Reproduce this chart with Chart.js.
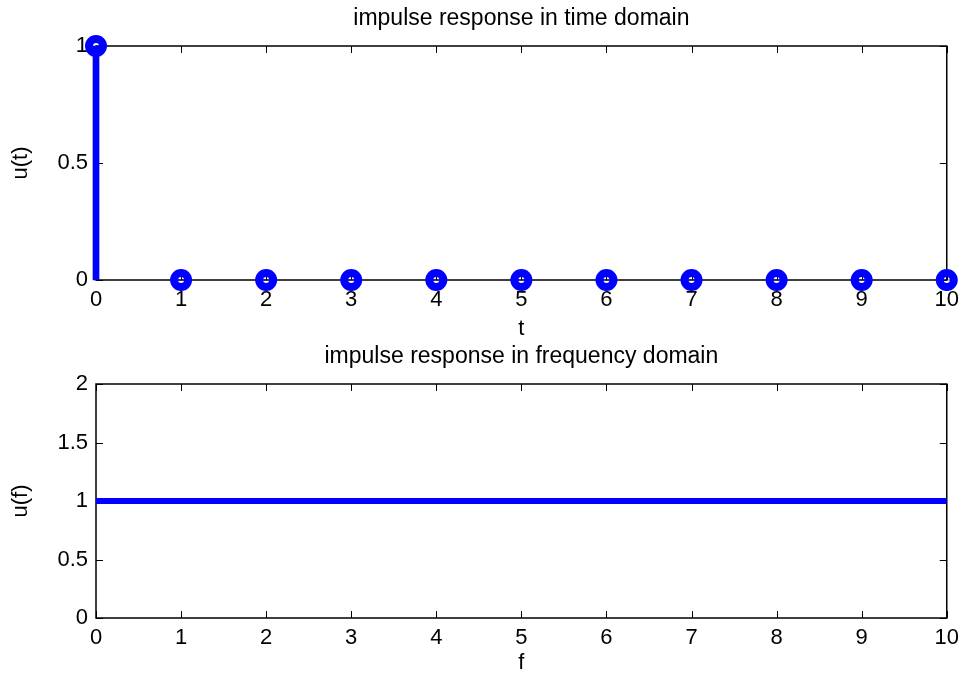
<!DOCTYPE html>
<html>
<head>
<meta charset="utf-8">
<title>impulse response</title>
<script src="https://cdn.jsdelivr.net/npm/chart.js@4"></script>
<style>
  html, body { margin: 0; padding: 0; background: #fff; overflow: hidden; }
  #wrap { position: relative; width: 966px; height: 673px; overflow: hidden; }
  canvas { position: absolute; left: 0; }
  #timeChart { top: 0; }
  #freqChart { top: 338px; }
</style>
</head>
<body>
<div id="wrap">
  <canvas id="timeChart" width="966" height="350"></canvas>
  <canvas id="freqChart" width="966" height="350"></canvas>
</div>
<script>
// time domain samples
const t = [0, 1, 2, 3, 4, 5, 6, 7, 8, 9, 10];
const u_t = [1, 0, 0, 0, 0, 0, 0, 0, 0, 0, 0];

// frequency domain magnitude
const f = [0, 1, 2, 3, 4, 5, 6, 7, 8, 9, 10];
const u_f = [1, 1, 1, 1, 1, 1, 1, 1, 1, 1, 1];

// axis ticks
const xTicks = [0, 1, 2, 3, 4, 5, 6, 7, 8, 9, 10];
const timeYTicks = [0, 0.5, 1];
const freqYTicks = [0, 0.5, 1, 1.5, 2];

const BLUE = '#0000ff';
const FONT = "'Liberation Sans', Arial, Helvetica, sans-serif";
const TICK_LEN = 7;

Chart.defaults.font.family = FONT;
Chart.defaults.color = '#000';

// box around the axes with small inward ticks on all four sides
const axesBox = {
    id: 'axesBox',
    beforeDatasetsDraw(chart) {
        const {ctx, chartArea: a, scales: {x, y}} = chart;
        ctx.save();
        ctx.strokeStyle = '#000';
        ctx.lineWidth = 1.5;
        ctx.strokeRect(a.left, a.top, a.right - a.left, a.bottom - a.top);
        ctx.lineWidth = 1;
        ctx.beginPath();
        x.ticks.forEach(tk => {
            const px = Math.round(x.getPixelForValue(tk.value)) + 0.5;
            ctx.moveTo(px, a.bottom);
            ctx.lineTo(px, a.bottom - TICK_LEN);
            ctx.moveTo(px, a.top);
            ctx.lineTo(px, a.top + TICK_LEN);
        });
        y.ticks.forEach(tk => {
            const py = Math.round(y.getPixelForValue(tk.value)) + 0.5;
            ctx.moveTo(a.left, py);
            ctx.lineTo(a.left + TICK_LEN, py);
            ctx.moveTo(a.right, py);
            ctx.lineTo(a.right - TICK_LEN, py);
        });
        ctx.stroke();
        ctx.restore();
    }
};

function makeOptions(title, xLabel, yLabel, yTicks, xTitlePad) {
    return {
        responsive: false,
        animation: false,
        devicePixelRatio: 1,
        layout: { padding: { left: 0, right: 19, top: 0, bottom: 0 } },
        plugins: {
            legend: { display: false },
            tooltip: { enabled: false },
            title: {
                display: true,
                fullSize: false,
                text: title,
                color: '#000',
                font: { size: 23, weight: 'normal' },
                padding: { top: 5, bottom: 13.4 }
            }
        },
        scales: {
            x: {
                type: 'linear',
                min: xTicks[0],
                max: xTicks[xTicks.length - 1],
                offset: false,
                grid: { display: false, drawTicks: false },
                border: { display: false },
                afterBuildTicks: s => { s.ticks = xTicks.map(v => ({ value: v })); },
                afterFit: s => { s.height = 70; },
                ticks: {
                    autoSkip: false, maxRotation: 0, padding: 7,
                    font: { size: 22 },
                    callback: v => String(v)
                },
                title: {
                    display: true,
                    text: xLabel,
                    font: { size: 22 },
                    padding: { top: 0, bottom: xTitlePad }
                }
            },
            y: {
                min: yTicks[0],
                max: yTicks[yTicks.length - 1],
                grid: { display: false, drawTicks: false },
                border: { display: false },
                afterBuildTicks: s => { s.ticks = yTicks.map(v => ({ value: v })); },
                afterFit: s => { s.width = 96; },
                ticks: {
                    padding: 8,
                    font: { size: 22 },
                    callback: v => String(v)
                },
                title: {
                    display: true,
                    text: yLabel,
                    font: { size: 22 },
                    padding: { top: 8, bottom: 0 }
                }
            }
        }
    };
}

// stem plot: thin bars for the stems, open circles at the tips
new Chart(document.getElementById('timeChart'), {
    type: 'bar',
    data: {
        datasets: [{
            type: 'line',
            data: t.map((v, i) => ({ x: v, y: u_t[i] })),
            showLine: false,
            pointRadius: 7,
            pointBorderWidth: 8,
            pointBorderColor: BLUE,
            pointBackgroundColor: 'rgba(0,0,0,0)',
            clip: false,
            order: 0
        }, {
            type: 'bar',
            data: t.map((v, i) => ({ x: v, y: u_t[i] })),
            backgroundColor: BLUE,
            borderWidth: 0,
            barThickness: 6,
            clip: false,
            order: 1
        }]
    },
    options: makeOptions('impulse response in time domain', 't', 'u(t)', timeYTicks, 7.8),
    plugins: [axesBox]
});

new Chart(document.getElementById('freqChart'), {
    type: 'line',
    data: {
        datasets: [{
            data: f.map((v, i) => ({ x: v, y: u_f[i] })),
            borderColor: BLUE,
            borderWidth: 6,
            pointRadius: 0,
            tension: 0
        }]
    },
    options: makeOptions('impulse response in frequency domain', 'f', 'u(f)', freqYTicks, 11.5),
    plugins: [axesBox]
});
</script>
</body>
</html>
